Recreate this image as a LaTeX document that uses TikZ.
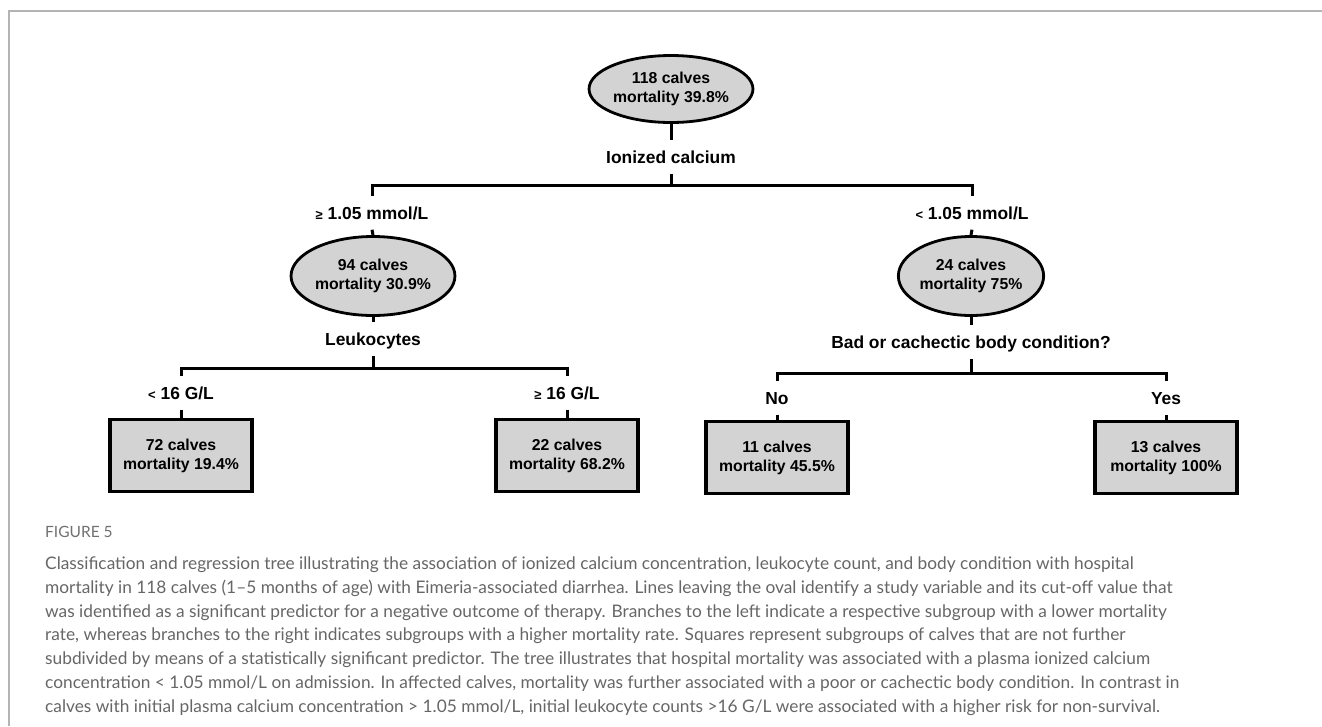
\documentclass[tikz,border=0pt]{standalone}
\usepackage{fontspec}
\setmainfont{Liberation Sans}
\newfontfamily\capfont{Lato}
\usetikzlibrary{shapes.geometric}
\definecolor{nodegray}{HTML}{D3D3D3}
\definecolor{framegray}{HTML}{B4B4B4}
\definecolor{captext}{HTML}{666666}
\definecolor{figlab}{HTML}{707070}
\newcommand{\geqsym}{{\fontsize{13}{13}\selectfont ≥}}
\newcommand{\ltsym}{{\fontsize{13}{13}\selectfont <}}
\newcommand{\nodefont}{\fontsize{15.8}{19}\selectfont\bfseries}
\newcommand{\labfont}{\fontsize{17.4}{20}\selectfont\bfseries}
\begin{document}
\begin{tikzpicture}[x=1pt,y=-1pt,
  oval/.style={ellipse, draw, line width=2.8pt, fill=nodegray, inner sep=0pt,
    align=center, font=\nodefont},
  leaf/.style={rectangle, draw, line width=3.2pt, fill=nodegray, inner sep=0pt,
    minimum width=142pt, minimum height=72pt, align=center, font=\nodefont},
  lab/.style={font=\labfont, inner sep=0pt, text height=12.5pt, text depth=0pt,
    minimum height=33pt},
  edge/.style={line width=3pt, line join=miter},
  captxt/.style={font=\capfont\fontsize{17.3}{20}\selectfont, text=captext, inner sep=0pt, anchor=base west}]
\useasboundingbox (0,0) rectangle (1322,726);
\draw[framegray, line width=2pt] (9,726) -- (9,11) -- (1322,11);

% nodes
\node[oval, minimum width=142pt, minimum height=67pt] (root) at (671,89) {118 calves\\mortality 39.8\%};
\node[lab] (ion) at (671,157) {Ionized calcium};
\node[lab] (ge105) at (372,213) {\geqsym{} 1.05 mmol/L};
\node[lab] (lt105) at (972,213) {\ltsym{} 1.05 mmol/L};
\node[oval, minimum width=144pt, minimum height=79pt] (n94) at (373,276) {94 calves\\mortality 30.9\%};
\node[oval, minimum width=144pt, minimum height=79pt] (n24) at (971,276) {24 calves\\mortality 75\%};
\node[lab] (leuk) at (373,339) {Leukocytes};
\node[lab] (lt16) at (181,393) {\ltsym{} 16 G/L};
\node[lab] (ge16) at (567,393) {\geqsym{} 16 G/L};
\node[leaf] (n72) at (181,455.5) {72 calves\\mortality 19.4\%};
\node[leaf] (n22) at (567,455.5) {22 calves\\mortality 68.2\%};
\node[lab] (bad) at (971,342) {Bad or cachectic body condition?};
\node[lab] (no) at (777,398) {No};
\node[lab] (yes) at (1166,398) {Yes};
\node[leaf] (n11) at (777,457.5) {11 calves\\mortality 45.5\%};
\node[leaf] (n13) at (1166,457.5) {13 calves\\mortality 100\%};

\coordinate (h1) at (671,185);
\coordinate (h2) at (373,368);
\coordinate (h3) at (971,373);

% connectors
\draw[edge] (root.south) -- (ion.north);
\draw[edge] (ion.south) -- (h1);
\draw[edge] (ge105.north) -- (ge105.north |- h1) -- (lt105.north |- h1) -- (lt105.north);
\draw[edge] (ge105.south) -- (n94.north);
\draw[edge] (lt105.south) -- (n24.north);
\draw[edge] (n94.south) -- (leuk.north);
\draw[edge] (leuk.south) -- (h2);
\draw[edge] (lt16.north) -- (lt16.north |- h2) -- (ge16.north |- h2) -- (ge16.north);
\draw[edge] (lt16.south) -- (n72.north);
\draw[edge] (ge16.south) -- (n22.north);
\draw[edge] (n24.south) -- (bad.north);
\draw[edge] (bad.south) -- (h3);
\draw[edge] (no.north) -- (no.north |- h3) -- (yes.north |- h3) -- (yes.north);
\draw[edge] (no.south) -- (n11.north);
\draw[edge] (yes.south) -- (n13.north);

% caption
\node[captxt, font=\capfont\fontsize{15.5}{18}\selectfont, text=figlab] (fig) at (45,537) {FIGURE 5};
\node[captxt] (c1) at (45,569.5) {Classification and regression tree illustrating the association of ionized calcium concentration, leukocyte count, and body condition with hospital};
\node[captxt] (c2) at (45,593.3) {mortality in 118 calves (1–5 months of age) with Eimeria-associated diarrhea. Lines leaving the oval identify a study variable and its cut-off value that};
\node[captxt] (c3) at (45,617.1) {was identified as a significant predictor for a negative outcome of therapy. Branches to the left indicate a respective subgroup with a lower mortality};
\node[captxt] (c4) at (45,640.9) {rate, whereas branches to the right indicates subgroups with a higher mortality rate. Squares represent subgroups of calves that are not further};
\node[captxt] (c5) at (45,664.7) {subdivided by means of a statistically significant predictor. The tree illustrates that hospital mortality was associated with a plasma ionized calcium};
\node[captxt] (c6) at (45,688.5) {concentration < 1.05 mmol/L on admission. In affected calves, mortality was further associated with a poor or cachectic body condition. In contrast in};
\node[captxt] (c7) at (45,712.3) {calves with initial plasma calcium concentration > 1.05 mmol/L, initial leukocyte counts >16 G/L were associated with a higher risk for non-survival.};
\end{tikzpicture}
\end{document}
